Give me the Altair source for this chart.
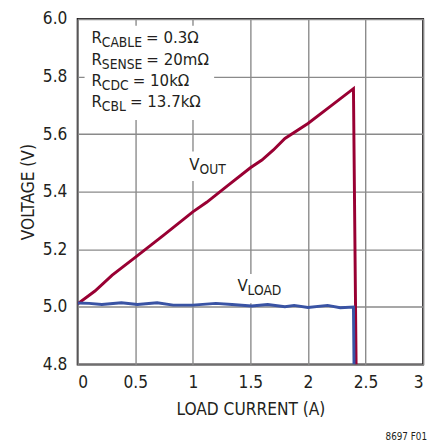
import altair as alt
import pandas as pd

# ---- data ----
vout_x = [0, 0.15, 0.3, 0.5, 0.75, 1.0, 1.12, 1.3, 1.5, 1.6, 1.7, 1.8, 2.0, 2.2, 2.395, 2.418]
vout_y = [5.01, 5.055, 5.11, 5.172, 5.25, 5.33, 5.363, 5.42, 5.483, 5.51, 5.545, 5.585, 5.637, 5.698, 5.758, 4.8]

vload_x = [0, 0.1, 0.21, 0.38, 0.52, 0.69, 0.83, 1.0, 1.2, 1.34, 1.51, 1.65, 1.8, 1.88, 2.0, 2.17, 2.28, 2.395, 2.40]
vload_y = [5.013, 5.012, 5.008, 5.014, 5.008, 5.014, 5.006, 5.006, 5.012, 5.008, 5.003, 5.008, 5.0, 5.005,
           4.998, 5.005, 4.997, 4.999, 4.8]

x_ticks = [0, 0.5, 1, 1.5, 2, 2.5, 3]
y_ticks = [4.8, 5.0, 5.2, 5.4, 5.6, 5.8, 6.0]

ann_main = ["R", "R", "R", "R", "V", "V"]
ann_sub = ["CABLE", "SENSE", "CDC", "CBL", "OUT", "LOAD"]
ann_rest = ["= 0.3Ω", "= 20mΩ", "= 10kΩ", "= 13.7kΩ", "", ""]
ann_x = [0.12, 0.12, 0.12, 0.12, 0.97, 1.387]
ann_y = [5.932, 5.8585, 5.785, 5.712, 5.492, 5.071]

# white boxes behind the annotations (x1, x2, y1, y2)
box_x1 = [0.06, 0.912, 1.338]
box_x2 = [1.185, 1.321, 1.815]
box_y1 = [5.976, 5.540, 5.114]
box_y2 = [5.649, 5.437, 5.012]

FONT = "DejaVu Sans Condensed, sans-serif"
INK = "#231f20"
RED = "#990033"
BLUE = "#3953a4"
MAIN_SIZE = 17
SUB_SIZE = 14
W, H = 352, 352

# approximate advance widths (DejaVu Sans em widths x condensed factor) for text layout
_adv = {"R": 0.695, "V": 0.684, "C": 0.698, "A": 0.684, "B": 0.686, "L": 0.557, "E": 0.632, "S": 0.635,
        "N": 0.748, "D": 0.770, "O": 0.787, "U": 0.732, "T": 0.611}


def text_w(s, size):
    return sum(_adv.get(c, 0.65) for c in s) * 0.89 * size


px_per_unit = W / 3.0
GAP = 4.5
sub_x = [x + text_w(m, MAIN_SIZE) / px_per_unit for x, m in zip(ann_x, ann_main)]
rest_x = [sx + (text_w(s, SUB_SIZE) + GAP) / px_per_unit for sx, s in zip(sub_x, ann_sub)]

lines = pd.concat([
    pd.DataFrame({"x": vout_x, "y": vout_y, "s": "VOUT", "o": range(len(vout_x))}),
    pd.DataFrame({"x": vload_x, "y": vload_y, "s": "VLOAD", "o": range(len(vload_x))}),
])
ann = pd.DataFrame({"main": ann_main, "sub": ann_sub, "rest": ann_rest, "x": ann_x, "y": ann_y,
                    "sx": sub_x, "rx": rest_x})
boxes = pd.DataFrame({"x1": box_x1, "x2": box_x2, "y1": box_y1, "y2": box_y2})

xs = alt.Scale(domain=[0, 3], nice=False, zero=False)
ys = alt.Scale(domain=[4.8, 6.0], nice=False, zero=False)
xax = alt.Axis(values=x_ticks, title="LOAD CURRENT (A)", labelExpr="datum.value == 0 ? '0' : format(datum.value, '~g')")
yax = alt.Axis(values=y_ticks, title="VOLTAGE (V)", format=".1f")

box_layer = alt.Chart(boxes).mark_rect(fill="white").encode(
    x=alt.X("x1:Q", scale=xs, axis=xax), x2="x2:Q",
    y=alt.Y("y1:Q", scale=ys, axis=yax), y2="y2:Q",
)

line_layer = alt.Chart(lines).mark_line(strokeWidth=3, clip=True).encode(
    x=alt.X("x:Q", scale=xs, axis=xax),
    y=alt.Y("y:Q", scale=ys, axis=yax),
    color=alt.Color("s:N", scale=alt.Scale(domain=["VOUT", "VLOAD"], range=[RED, BLUE]), legend=None),
    order="o:Q",
)

main_t = alt.Chart(ann).mark_text(font=FONT, fontSize=MAIN_SIZE, align="left", baseline="middle",
                                  color=INK).encode(
    x=alt.X("x:Q", scale=xs, axis=xax), y=alt.Y("y:Q", scale=ys, axis=yax), text="main:N")
sub_t = alt.Chart(ann).mark_text(font=FONT, fontSize=SUB_SIZE, align="left", baseline="middle",
                                 color=INK, dy=5).encode(
    x=alt.X("sx:Q", scale=xs, axis=xax), y=alt.Y("y:Q", scale=ys, axis=yax), text="sub:N")
rest_t = alt.Chart(ann).mark_text(font=FONT, fontSize=MAIN_SIZE, align="left", baseline="middle",
                                  color=INK).encode(
    x=alt.X("rx:Q", scale=xs, axis=xax), y=alt.Y("y:Q", scale=ys, axis=yax), text="rest:N")

chart = alt.layer(box_layer, line_layer, main_t, sub_t, rest_t).properties(
    width=W, height=H,
    title=alt.TitleParams("8697 F01", orient="bottom", anchor="end", font=FONT, fontSize=10,
                          fontWeight="normal", color=INK, offset=14, dx=4),
    autosize=alt.AutoSizeParams(type="none"),
    padding={"left": 71, "top": 7, "right": 6, "bottom": 80},
).configure_view(
    stroke=INK, strokeWidth=2
).configure_axis(
    grid=True, gridColor="#8a8a8a", gridWidth=1.4, domain=False, ticks=False,
    labelFont=FONT, labelFontSize=17.5, labelColor=INK,
    titleFont=FONT, titleFontSize=17.5, titleColor=INK, titleFontWeight="normal",
).configure_axisX(
    labelPadding=10, titlePadding=10,
).configure_axisY(
    labelPadding=11, titlePadding=5,
)

chart.save("out.html", embed_options={"renderer": "svg", "actions": False})
